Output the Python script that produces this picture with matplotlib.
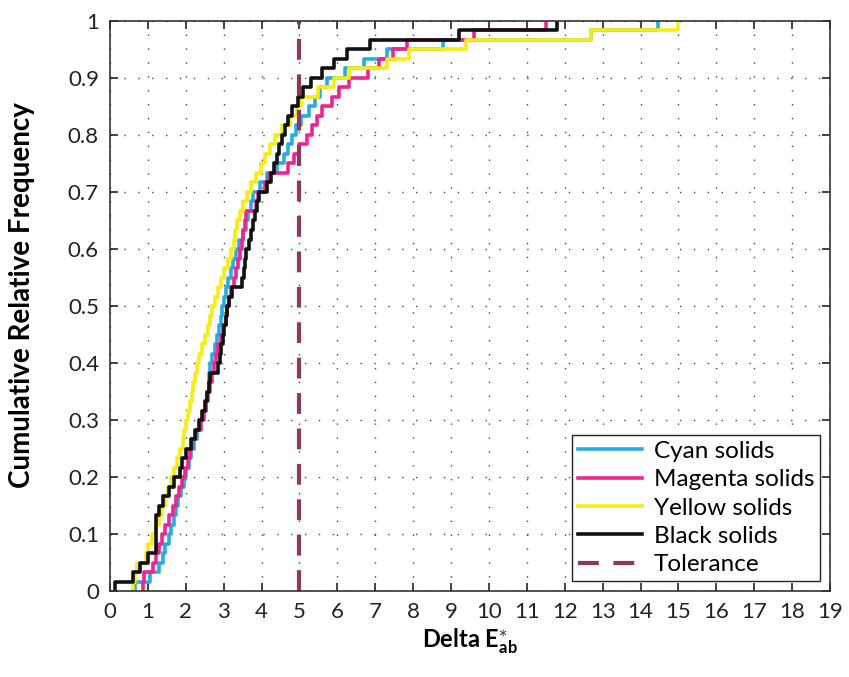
import matplotlib
matplotlib.use("Agg")
import matplotlib.pyplot as plt
import numpy as np

plt.rcParams['font.family'] = ['Lato', 'DejaVu Sans']
plt.rcParams['mathtext.fontset'] = 'custom'
plt.rcParams['mathtext.rm'] = 'Lato:bold'
plt.rcParams['mathtext.it'] = 'Lato:bold'
plt.rcParams['mathtext.bf'] = 'Lato:bold'
plt.rcParams['mathtext.default'] = 'rm'

# sorted Delta E values (60 samples per ink)
cyan = [0.65, 1.05, 1.30, 1.40, 1.45, 1.55, 1.60, 1.70, 1.75, 1.80,
        1.88, 1.94, 2.00, 2.08, 2.15, 2.22, 2.30, 2.38, 2.45, 2.52,
        2.56, 2.60, 2.62, 2.65, 2.70, 2.76, 2.82, 2.88, 2.92, 2.95,
        3.00, 3.05, 3.12, 3.18, 3.25, 3.32, 3.40, 3.50, 3.58, 3.65,
        3.72, 3.78, 3.95, 4.15, 4.40, 4.60, 4.70, 4.80, 4.90, 5.05,
        5.24, 5.40, 5.55, 5.72, 6.20, 6.70, 7.30, 8.80, 12.70, 14.45]
magenta = [0.87, 0.90, 1.14, 1.20, 1.30, 1.37, 1.45, 1.55, 1.65, 1.75,
           1.82, 1.90, 1.98, 2.05, 2.10, 2.16, 2.28, 2.40, 2.48, 2.53,
           2.58, 2.64, 2.70, 2.75, 2.80, 2.86, 2.92, 2.98, 3.05, 3.10,
           3.15, 3.20, 3.26, 3.32, 3.38, 3.43, 3.48, 3.52, 3.56, 3.60,
           3.85, 3.90, 4.10, 4.20, 4.70, 4.85, 5.00, 5.20, 5.32, 5.45,
           5.60, 5.85, 6.05, 6.30, 6.80, 7.10, 7.48, 7.84, 9.60, 11.50]
yellow = [0.60, 0.65, 0.70, 0.95, 1.00, 1.10, 1.20, 1.30, 1.38, 1.45,
          1.52, 1.60, 1.70, 1.78, 1.85, 1.92, 1.96, 2.00, 2.06, 2.11,
          2.17, 2.20, 2.25, 2.29, 2.36, 2.43, 2.50, 2.58, 2.64, 2.70,
          2.78, 2.85, 2.93, 3.02, 3.12, 3.20, 3.26, 3.30, 3.36, 3.42,
          3.52, 3.61, 3.72, 3.86, 3.98, 4.10, 4.22, 4.36, 4.55, 4.75,
          4.93, 5.05, 5.50, 5.90, 6.30, 7.30, 7.90, 9.40, 12.70, 15.00]
black = [0.13, 0.60, 0.80, 1.00, 1.20, 1.20, 1.20, 1.20, 1.30, 1.40,
         1.55, 1.70, 1.85, 1.90, 2.00, 2.15, 2.25, 2.35, 2.42, 2.50,
         2.55, 2.60, 2.65, 2.85, 2.90, 2.93, 2.97, 3.02, 3.07, 3.10,
         3.15, 3.22, 3.48, 3.53, 3.56, 3.60, 3.66, 3.72, 3.78, 3.83,
         3.88, 3.92, 4.14, 4.25, 4.33, 4.40, 4.47, 4.53, 4.62, 4.70,
         4.80, 4.95, 5.10, 5.30, 5.60, 5.90, 6.25, 6.85, 9.20, 11.80]

series = [("Cyan solids", cyan, "#29abe2"),
          ("Magenta solids", magenta, "#ec268f"),
          ("Yellow solids", yellow, "#f7ec13"),
          ("Black solids", black, "#111111")]
tolerance = 5

fig = plt.figure(figsize=(8.49, 6.77), dpi=100)
ax = fig.add_axes([0.1296, 0.127, 0.848, 0.842])

for label, vals, col in series:
    x = np.sort(np.array(vals))
    n = len(x)
    y = np.arange(1, n + 1) / n
    ax.step(np.r_[x[0], x], np.r_[0, y], where='post', color=col, lw=2.6, label=label)

ax.plot([tolerance, tolerance], [0, 1], color="#8c3a5c", lw=3, ls=(0, (5, 3.5)), label="Tolerance")

ax.set_xlim(0, 19)
ax.set_ylim(0, 1)
ax.set_xticks(range(0, 20))
ax.set_xticklabels([str(i) for i in range(0, 20)])
yt = np.round(np.arange(0, 1.01, 0.1), 1)
ax.set_yticks(yt)
ax.set_yticklabels(['0'] + ['%.1f' % v for v in yt[1:-1]] + ['1'])
ax.tick_params(direction='in', length=6, width=1.2, top=True, right=True,
               labelsize=16, colors='#222222', pad=8)
ax.grid(True, color='#444444', lw=1.0, ls=(0, (1, 9)))
for sp in ax.spines.values():
    sp.set_color('#333333')
    sp.set_linewidth(1.2)

ax.set_xlabel(r'Delta E$^{\ast}_{ab}$', fontsize=17, fontweight='bold', labelpad=3)
ax.set_ylabel('Cumulative Relative Frequency', fontsize=20, fontweight='bold')
ax.yaxis.set_label_coords(-0.104, 0.52)

leg = ax.legend(loc='lower right', fontsize=17.5, frameon=True, fancybox=False,
                edgecolor='#222222', framealpha=1, handlelength=2.6,
                labelspacing=0.3, borderpad=0.25, handletextpad=0.5,
                borderaxespad=0.4)
leg.get_frame().set_linewidth(1.0)

fig.savefig("out.png", dpi=100)
